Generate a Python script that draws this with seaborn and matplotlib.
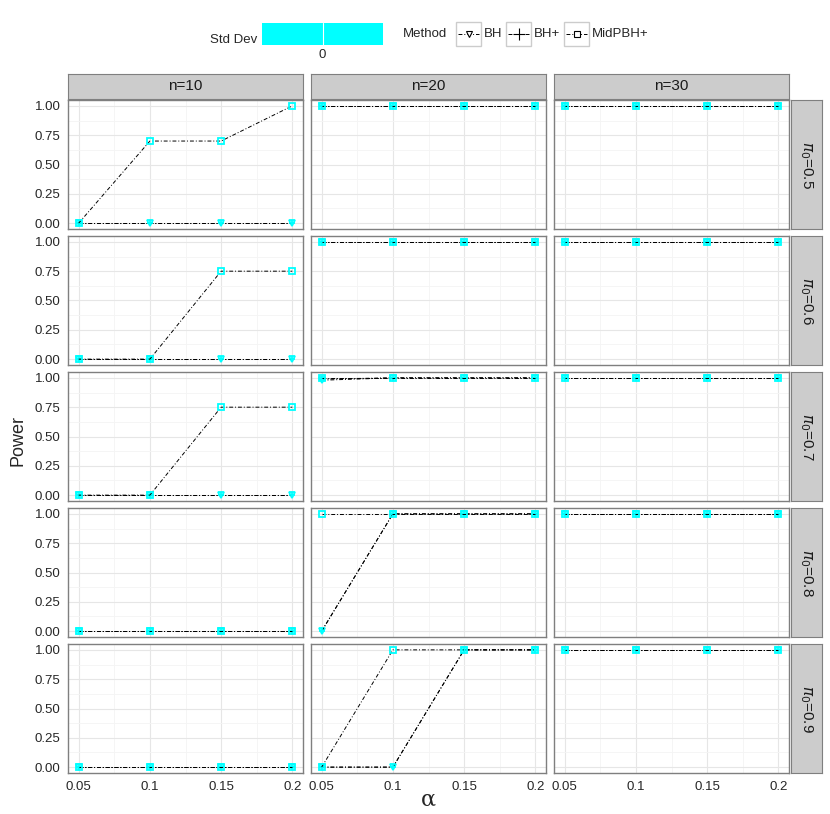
import numpy as np
import pandas as pd
import matplotlib
matplotlib.use("Agg")
import matplotlib.pyplot as plt
from matplotlib.patches import Rectangle
from matplotlib.lines import Line2D
import seaborn as sns

alpha = [0.05, 0.1, 0.15, 0.2]
n_values = [10, 20, 30]
pi0_values = [0.5, 0.6, 0.7, 0.8, 0.9]
methods = ["BH", "BH+", "MidPBH+"]
y_ticks = [0.0, 0.25, 0.5, 0.75, 1.0]
x_tick_labels = ["0.05", "0.1", "0.15", "0.2"]

# power per method, one row per pi0 (0.5 ... 0.9)
power_n10 = {
    "BH":      [[0, 0, 0, 0], [0, 0, 0, 0], [0, 0, 0, 0], [0, 0, 0, 0], [0, 0, 0, 0]],
    "BH+":     [[0, 0, 0, 0], [0, 0, 0, 0], [0, 0, 0, 0], [0, 0, 0, 0], [0, 0, 0, 0]],
    "MidPBH+": [[0, 0.7, 0.7, 1], [0, 0, 0.75, 0.75], [0, 0, 0.75, 0.75], [0, 0, 0, 0], [0, 0, 0, 0]],
}
power_n20 = {
    "BH":      [[1, 1, 1, 1], [1, 1, 1, 1], [0.98, 1, 1, 1], [0, 1, 1, 1], [0, 0, 1, 1]],
    "BH+":     [[1, 1, 1, 1], [1, 1, 1, 1], [0.99, 1, 1, 1], [0, 1, 1, 1], [0, 0, 1, 1]],
    "MidPBH+": [[1, 1, 1, 1], [1, 1, 1, 1], [1, 1, 1, 1], [1, 1, 1, 1], [0, 1, 1, 1]],
}
power_n30 = {
    "BH":      [[1, 1, 1, 1]] * 5,
    "BH+":     [[1, 1, 1, 1]] * 5,
    "MidPBH+": [[1, 1, 1, 1]] * 5,
}
std_dev = 0

rows = []
for n, table in zip(n_values, [power_n10, power_n20, power_n30]):
    for m in methods:
        for i, p0 in enumerate(pi0_values):
            for a, v in zip(alpha, table[m][i]):
                rows.append({"n": n, "pi0": p0, "Method": m, "alpha": a,
                             "Power": v, "sd": std_dev})
df = pd.DataFrame(rows)

sns.set_style("white")
plt.rcParams["font.family"] = ["Liberation Sans", "DejaVu Sans"]

W, H = 830, 814
fig = plt.figure(figsize=(W / 100, H / 100), dpi=100)


def box(x0, y0, w, h):
    return [x0 / W, 1 - (y0 + h) / H, w / W, h / H]


markers = {"BH": "v", "BH+": "+", "MidPBH+": "s"}
dash = (0, (4, 2, 1, 2))
border = "#7f7f7f"
strip_bg = "#cccccc"

col_left = [68, 311, 554]
pw, ph = 235, 129
row_top = [100, 236, 372, 508, 644]

for r, p0 in enumerate(pi0_values):
    for c, n in enumerate(n_values):
        ax = fig.add_axes(box(col_left[c], row_top[r], pw, ph))
        sub = df[(df.n == n) & (df.pi0 == p0)]
        for m in methods:
            sns.lineplot(data=sub[sub.Method == m], x="alpha", y="Power", ax=ax,
                         color="black", lw=0.7, linestyle=dash,
                         marker=markers[m], ms=5, mfc="none", mec="cyan",
                         mew=1.3, errorbar=None, legend=False)
        ax.set_xlim(0.0425, 0.2075)
        ax.set_ylim(-0.05, 1.05)
        ax.set_xticks(alpha)
        ax.set_yticks(y_ticks)
        ax.set_xticks([0.075, 0.125, 0.175], minor=True)
        ax.set_yticks([0.125, 0.375, 0.625, 0.875], minor=True)
        ax.grid(True, which="major", color="#e6e6e6", lw=0.8)
        ax.grid(True, which="minor", color="#f4f4f4", lw=0.6)
        ax.set_axisbelow(True)
        for s in ax.spines.values():
            s.set_color(border)
            s.set_linewidth(1.0)
        ax.tick_params(which="major", direction="out", length=3.5, width=0.8,
                       color="#333333", labelsize=9.5, pad=2)
        ax.tick_params(which="minor", length=0)
        ax.set_xlabel("")
        ax.set_ylabel("")
        if c == 0:
            ax.set_yticklabels(["0.00", "0.25", "0.50", "0.75", "1.00"])
        else:
            ax.set_yticklabels([])
            ax.tick_params(axis="y", which="major", length=0)
        if r == len(pi0_values) - 1:
            ax.set_xticklabels(x_tick_labels)
        else:
            ax.set_xticklabels([])
            ax.tick_params(axis="x", which="major", length=0)

        if r == 0:
            sax = fig.add_axes(box(col_left[c], 74, pw, 25))
            sax.set_facecolor(strip_bg)
            sax.set_xticks([]); sax.set_yticks([])
            for s in sax.spines.values():
                s.set_color(border)
            sax.text(0.5, 0.5, f"n={n}", ha="center", va="center", fontsize=11,
                     color="#1a1a1a", transform=sax.transAxes)
        if c == len(n_values) - 1:
            sax = fig.add_axes(box(791, row_top[r], 31, ph))
            sax.set_facecolor(strip_bg)
            sax.set_xticks([]); sax.set_yticks([])
            for s in sax.spines.values():
                s.set_color(border)
            sax.text(0.5, 0.5, rf"$\pi_0$=" + f"{p0}", ha="center", va="center",
                     rotation=270, fontsize=11, color="#1a1a1a",
                     transform=sax.transAxes)

fig.text(18 / W, 1 - 440 / H, "Power", rotation=90, ha="center", va="center",
         fontsize=13)
fig.text(428 / W, 1 - 800 / H, "α", ha="center", va="center",
         fontsize=16, family="DejaVu Serif")

# legend area drawn in pixel coordinates
lax = fig.add_axes([0, 1 - 70 / H, 1, 70 / H])
lax.set_xlim(0, W)
lax.set_ylim(70, 0)
lax.axis("off")
lax.text(257, 40, "Std Dev", ha="right", va="center", fontsize=9.5)
lax.add_patch(Rectangle((262, 23), 121, 22, color="cyan", lw=0))
lax.plot([322.5, 322.5], [23, 45], color="white", lw=0.8)
lax.text(322.5, 55, "0", ha="center", va="center", fontsize=9.5)
lax.text(403, 34, "Method", ha="left", va="center", fontsize=9.5)
key_x = [456, 506, 564]
lab_x = [484, 534, 592]
for kx, lx, m in zip(key_x, lab_x, methods):
    lax.add_patch(Rectangle((kx, 22), 25, 24, facecolor="white",
                            edgecolor="#cccccc", lw=1))
    lax.add_line(Line2D([kx + 2, kx + 23], [34, 34], color="black", lw=0.7,
                        linestyle=dash))
    lax.add_line(Line2D([kx + 12.5], [34], marker=markers[m],
                        ms=4.5 if m != "BH+" else 9,
                        mfc="white", mec="black", mew=0.8, color="black"))
    lax.text(lx, 34, m, ha="left", va="center", fontsize=9.5)

fig.savefig("out.png", dpi=100)
